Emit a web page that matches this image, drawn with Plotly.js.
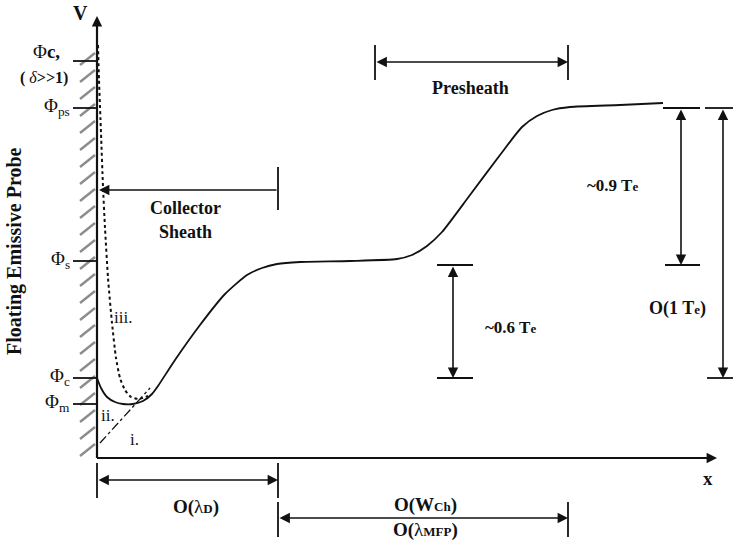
<!DOCTYPE html>
<html><head><meta charset="utf-8">
<script src="https://cdn.plot.ly/plotly-3.0.1.min.js"></script>
<style>body{margin:0;background:#fff}#c{width:733px;height:542px}</style>
</head><body><div id="c"></div>
<script>
// Diagram frame: origin at the V/x axes corner, units ≈ screen pixels
const curveX = [0, 4, 10, 18, 26, 36, 46, 55, 61, 78, 103, 128, 150, 165, 180, 203, 253, 300, 315, 330, 345, 373, 403, 425, 440, 455, 473, 523, 566];
const curveY = [80, 70, 61, 56, 54, 54, 57, 64, 72, 98, 133, 164, 183, 190, 194, 196, 197, 199, 203, 212, 226, 263, 303, 331, 342, 348, 351, 353, 355];
const dotX = [1, 2, 4, 6, 8, 11, 15, 19, 23, 28, 34, 42, 51];
const dotY = [413, 378, 325, 271, 230, 180, 135, 100, 80, 68, 61, 59, 62];
const dashX = [3, 53];
const dashY = [15, 70];
const levelNames = ['Φ<b>c,</b>', 'Φ<sub>ps</sub>', 'Φ<sub>s</sub>', 'Φ<sub>c</sub>', 'Φ<sub>m</sub>'];
const levelY = [397, 350, 197, 80, 54];

const K = '#111';
const serif = 'Liberation Serif';
const traces = [
  {x: curveX, y: curveY, mode: 'lines', line: {color: K, width: 1.8, shape: 'spline', smoothing: 0.6}, hoverinfo: 'skip'},
  {x: dotX, y: dotY, mode: 'lines', line: {color: K, width: 2, dash: 'dot', shape: 'spline', smoothing: 0.6}, hoverinfo: 'skip'},
  {x: dashX, y: dashY, mode: 'lines', line: {color: K, width: 1.3, dash: 'dashdot'}, hoverinfo: 'skip'}
];

const shapes = [];
const ln = (x0, y0, x1, y1, w, c) => shapes.push({type: 'line', xref: 'x', yref: 'y', x0, y0, x1, y1, line: {color: c || K, width: w || 1.8}});
// hatching left of probe wall
for (let y = 2; y < 408; y += 17) ln(-17, y, -2, y + 12, 2.4, '#8c8c8c');
// axes
ln(0, 0, 0, 432, 2.2);
ln(0, 0, 612, 0, 2.2);
// level ticks
levelY.forEach(v => ln(-24, v, 0, v, 1.8));
// bars
ln(181, 291, 181, 248); // collector sheath
ln(278, 413, 278, 378); ln(471, 413, 471, 378); // presheath
ln(566, 350, 603, 350); ln(608, 350, 636, 350);
ln(568, 193, 603, 193);
ln(610, 80, 636, 80);
ln(340, 193, 376, 193); ln(340, 80, 376, 80);
ln(0, -5, 0, -40); ln(181, -5, 181, -40);
ln(181, -44, 181, -79); ln(471, -44, 471, -79);

const ann = [];
const arrow = (x0, y0, x1, y1, both) => ann.push({x: x1, y: y1, ax: x0, ay: y0, xref: 'x', yref: 'y', axref: 'x', ayref: 'y', text: '', showarrow: true, arrowhead: 2, arrowsize: 1.3, arrowwidth: 1.6, arrowcolor: K, arrowside: both ? 'end+start' : 'end', standoff: 0, startstandoff: 0});
arrow(0, 420, 0, 442);
arrow(600, 0, 620, 0);
arrow(181, 268, 2, 268);
arrow(278, 396, 471, 396, true);
arrow(584, 350, 584, 193, true);
arrow(626, 350, 626, 80, true);
arrow(356, 193, 356, 80, true);
arrow(0, -22, 181, -22, true);
arrow(181, -60, 471, -60, true);

const txt = (x, y, text, size, opts) => ann.push(Object.assign({x, y, xref: 'x', yref: 'y', text, showarrow: false, font: {family: serif, size: size, color: K}}, opts || {}));
const sm = s => '<span style="font-size:13px">' + s + '</span>';
txt(-17, 445, '<b>V</b>', 20);
txt(611, -20, '<b>x</b>', 19);
txt(-83, 207, '<b>Floating Emissive Probe</b>', 20, {textangle: -90});
txt(-35, 407, levelNames[0], 19, {xanchor: 'right'});
txt(-27, 380, '<b>(</b> <i>δ</i><b>>>1)</b>', 16, {xanchor: 'right'});
txt(-25, 351, levelNames[1], 19, {xanchor: 'right'});
txt(-25, 198, levelNames[2], 19, {xanchor: 'right'});
txt(-25, 81, levelNames[3], 19, {xanchor: 'right'});
txt(-25, 55, levelNames[4], 19, {xanchor: 'right'});
txt(26, 141, 'iii.', 17);
txt(11, 43, 'ii.', 17);
txt(37, 19, 'i.', 17);
txt(88, 250, '<b>Collector</b>', 18);
txt(88, 226, '<b>Sheath</b>', 18);
txt(373, 370, '<b>Presheath</b>', 18);
txt(515, 273, '<b>~0.9 T' + sm('e') + '</b>', 17);
txt(580, 150, '<b>O(1 T' + sm('e') + ')</b>', 18);
txt(413, 131, '<b>~0.6 T' + sm('e') + '</b>', 17);
txt(99, -49, '<b>O(</b>λ<b>' + sm('D') + ')</b>', 19);
txt(328, -47, '<b>O(W' + sm('Ch') + ')</b>', 19);
txt(328, -72, '<b>O(</b>λ<b>' + sm('MFP') + ')</b>', 19);

const ax = {visible: false, showgrid: false, zeroline: false, fixedrange: true};
Plotly.newPlot('c', traces, {
  width: 733, height: 542, margin: {l: 0, r: 0, t: 0, b: 0},
  font: {family: serif},
  paper_bgcolor: '#fff', plot_bgcolor: '#fff', showlegend: false,
  xaxis: Object.assign({range: [-97, 636]}, ax),
  yaxis: Object.assign({range: [-84, 458]}, ax),
  shapes, annotations: ann
}, {displayModeBar: false, staticPlot: true});
</script></body></html>
